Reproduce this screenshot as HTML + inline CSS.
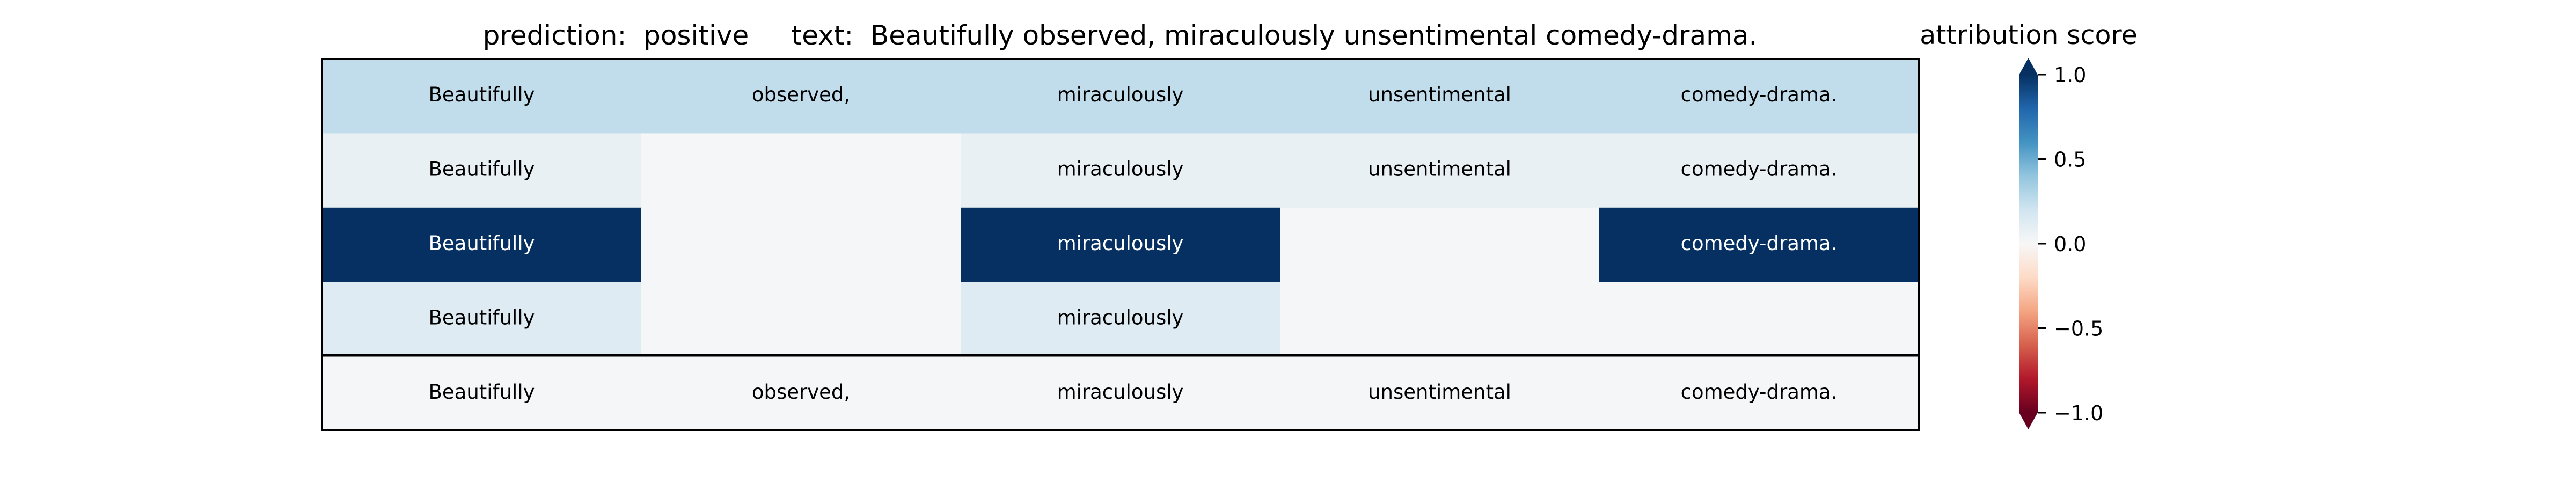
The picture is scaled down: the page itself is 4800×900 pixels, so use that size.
<!DOCTYPE html>
<html><head><meta charset="utf-8"><style>
html,body{margin:0;padding:0;background:#fff;width:4800px;height:900px;overflow:hidden}
svg text{font-family:"DejaVu Sans","Liberation Sans",sans-serif}
</style></head><body>
<svg id="chart" width="4800" height="900" xmlns="http://www.w3.org/2000/svg">
<text x="2087" y="83" font-size="50" text-anchor="middle" xml:space="preserve" style="white-space:pre">prediction:  positive     text:  Beautifully observed, miraculously unsentimental comedy-drama.</text>
<g id="cells"></g>
<rect x="600" y="110" width="2975" height="692" fill="none" stroke="#000" stroke-width="4"/>
<line x1="600" x2="3575" y1="662" y2="662" stroke="#000" stroke-width="5"/>
<defs><linearGradient id="cg" x1="0" y1="1" x2="0" y2="0"></linearGradient></defs>
<g id="cbar"></g>
<text x="3780" y="82" font-size="49" text-anchor="middle">attribution score</text>
</svg>
<script>
const words = ["Beautifully","observed,","miraculously","unsentimental","comedy-drama."];
const row0 = [0.25,0.25,0.25,0.25,0.25];
const row1 = [0.08,0.01,0.08,0.08,0.08];
const row2 = [1.0,0.01,1.0,0.01,1.0];
const row3 = [0.13,0.01,0.13,0.01,0.01];
const row4 = [0.01,0.01,0.01,0.01,0.01];
const shown1 = [1,0,1,1,1];
const shown2 = [1,0,1,0,1];
const shown3 = [1,0,1,0,0];
const rows = [row0,row1,row2,row3,row4];
const shown = [[1,1,1,1,1],shown1,shown2,shown3,[1,1,1,1,1]];
const ticks = [1.0,0.5,0.0,-0.5,-1.0];
const tickLabels = ["1.0","0.5","0.0","\u22120.5","\u22121.0"];

const rdbu = ["#67001f","#b2182b","#d6604d","#f4a582","#fddbc7","#f7f7f7","#d1e5f0","#92c5de","#4393c3","#2166ac","#053061"];
function hex(h){return [1,3,5].map(i=>parseInt(h.substr(i,2),16));}
function cmap(v){
  v=Math.max(-1,Math.min(1,v));
  const t=(v+1)/2*10, i=Math.min(9,Math.floor(t)), f=t-i;
  const a=hex(rdbu[i]), b=hex(rdbu[i+1]);
  return "rgb("+a.map((c,k)=>Math.round(c+(b[k]-c)*f)).join(",")+")";
}
const NS="http://www.w3.org/2000/svg";
const X0=600,X1=3575,Y0=110,Y1=802;
const colW=(X1-X0)/words.length, rowH=(Y1-Y0)/rows.length;
function xs(c){return X0+c*colW;}
function ys(r){return Y0+r*rowH;}
const g=document.getElementById("cells");
rows.forEach((vals,r)=>{
  vals.forEach((v,c)=>{
    const rect=document.createElementNS(NS,"rect");
    
    
    rect.setAttribute("x",xs(c));rect.setAttribute("y",ys(r));
    rect.setAttribute("width",colW+0.5);rect.setAttribute("height",rowH+0.5);
    rect.setAttribute("fill",cmap(v));
    g.appendChild(rect);
    if(shown[r][c]){
      const t=document.createElementNS(NS,"text");
      
      
      t.setAttribute("x",xs(c)+colW/2);t.setAttribute("y",ys(r)+rowH/2+10);
      t.setAttribute("font-size","37");t.setAttribute("text-anchor","middle");
      t.setAttribute("fill",Math.abs(v)>0.6?"#fff":"#000");
      t.textContent=words[c];
      g.appendChild(t);
    }
  });
});
const grad=document.getElementById("cg");
rdbu.forEach((col,i)=>{
  const s=document.createElementNS(NS,"stop");
  s.setAttribute("offset",(i/10));s.setAttribute("stop-color",col);
  grad.appendChild(s);
});
const CB_X=3762,CB_W=35,CB_TOP=139,CB_BOT=769;
function cy(v){return CB_BOT-(v+1)/2*(CB_BOT-CB_TOP);}
const cb=document.getElementById("cbar");
const bar=document.createElementNS(NS,"rect");


bar.setAttribute("x",CB_X);bar.setAttribute("y",cy(1));bar.setAttribute("width",CB_W);bar.setAttribute("height",cy(-1)-cy(1));
bar.setAttribute("fill","url(#cg)");cb.appendChild(bar);
const up=document.createElementNS(NS,"polygon");


up.setAttribute("points",`${CB_X},${cy(1)+0.5} ${CB_X+CB_W/2},108 ${CB_X+CB_W},${cy(1)+0.5}`);
up.setAttribute("fill","#053061");cb.appendChild(up);
const dn=document.createElementNS(NS,"polygon");


dn.setAttribute("points",`${CB_X},${cy(-1)-0.5} ${CB_X+CB_W/2},800 ${CB_X+CB_W},${cy(-1)-0.5}`);
dn.setAttribute("fill","#67001f");cb.appendChild(dn);
ticks.forEach((v,i)=>{
  const l=document.createElementNS(NS,"line");
  
  
  l.setAttribute("x1",CB_X+CB_W);l.setAttribute("x2",CB_X+CB_W+15);
  l.setAttribute("y1",cy(v));l.setAttribute("y2",cy(v));
  l.setAttribute("stroke","#000");l.setAttribute("stroke-width","3");
  cb.appendChild(l);
  const t=document.createElementNS(NS,"text");
  
  
  t.setAttribute("x",CB_X+CB_W+30);t.setAttribute("y",cy(v)+14);
  t.setAttribute("font-size","38");
  t.textContent=tickLabels[i];
  cb.appendChild(t);
});
</script>
</body></html>
